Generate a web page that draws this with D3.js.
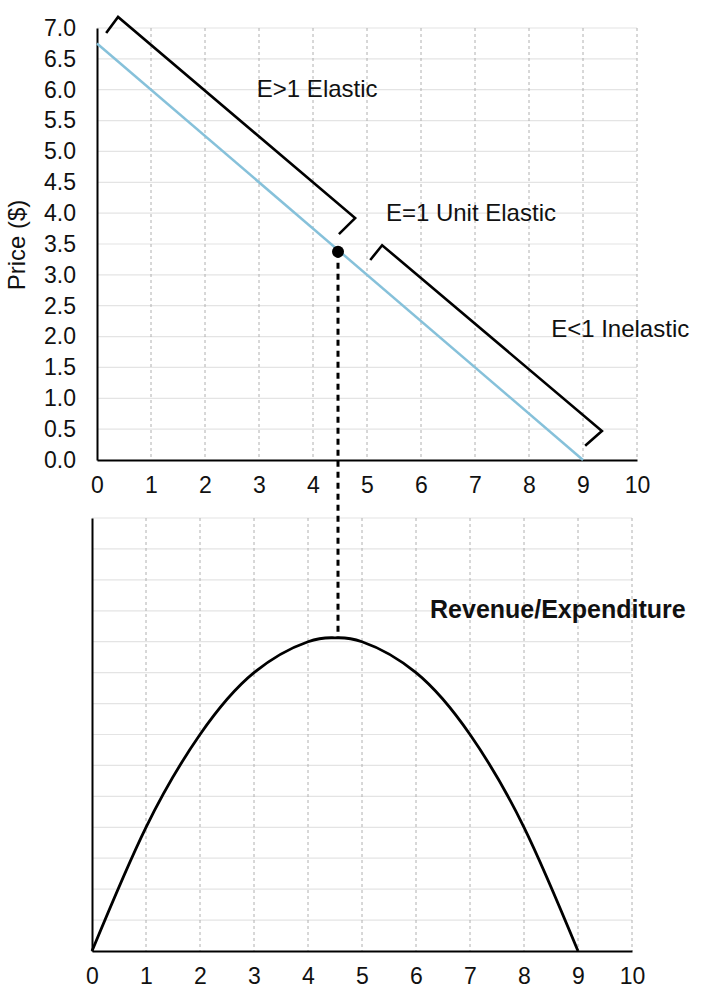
<!DOCTYPE html>
<html>
<head>
<meta charset="utf-8">
<script src="https://cdn.jsdelivr.net/npm/d3@7/dist/d3.min.js"></script>
<style>
  html, body { margin: 0; padding: 0; background: #fff; }
  svg { display: block; font-family: "Liberation Sans", Arial, Helvetica, sans-serif; }
</style>
</head>
<body>
<svg id="chart" width="720" height="988"></svg>
<script>
// ---- data ----
const qTicks = [0, 1, 2, 3, 4, 5, 6, 7, 8, 9, 10];
const priceTicks = [0, 0.5, 1, 1.5, 2, 2.5, 3, 3.5, 4, 4.5, 5, 5.5, 6, 6.5, 7];
const revenueGrid = [0, 1.5, 3, 4.5, 6, 7.5, 9, 10.5, 12, 13.5, 15, 16.5, 18, 19.5, 21];
const demandQ = [0, 9];
const demandP = [6.75, 0];
const unitPoint = [4.5, 3.375];
const revenueQ = [0, 1, 2, 3, 4, 4.5, 5, 6, 7, 8, 9];
const revenueR = [0, 6, 10.5, 13.5, 15, 15.19, 15, 13.5, 10.5, 6, 0];
const elasticBracket = [[0.17, 6.92], [0.39, 7.18], [4.78, 3.92], [4.48, 3.66]];
const inelasticBracket = [[5.06, 3.24], [5.28, 3.48], [9.35, 0.47], [9.04, 0.23]];
const labels = [
  { text: "E>1 Elastic", q: 2.96, p: 5.89 },
  { text: "E=1 Unit Elastic", q: 5.35, p: 3.88 },
  { text: "E<1 Inelastic", q: 8.41, p: 2.0 }
];
const revenueTitle = "Revenue/Expenditure";
const yTitle = "Price ($)";

// ---- scales ----
const svg = d3.select("#chart");
const xTop = d3.scaleLinear().domain([0, 10]).range([97, 637]);
const yTop = d3.scaleLinear().domain([0, 7]).range([460, 28]);
const xBot = d3.scaleLinear().domain([0, 10]).range([92, 632]);
const yBot = d3.scaleLinear().domain([0, 21]).range([951, 518]);

const gridH = "#e4e4e4", gridV = "#b0b0b0";
const FONT = "Liberation Sans, Arial, sans-serif";

function panel(xs, ys, yVals, showYLabels) {
  const g = svg.append("g");
  g.selectAll(".hg").data(yVals.filter(v => v > 0)).enter().append("line")
    .attr("x1", xs(0)).attr("x2", xs(10))
    .attr("y1", d => ys(d)).attr("y2", d => ys(d))
    .attr("stroke", gridH).attr("stroke-width", 1.2);
  g.selectAll(".vg").data(qTicks.filter(v => v > 0)).enter().append("line")
    .attr("x1", d => xs(d)).attr("x2", d => xs(d))
    .attr("y1", ys.range()[1]).attr("y2", ys.range()[0])
    .attr("stroke", gridV).attr("stroke-width", 1).attr("stroke-dasharray", "3,3");
  const xAxis = d3.axisBottom(xs).tickValues(qTicks).tickSize(0).tickPadding(17).tickFormat(d3.format("d"));
  const ax = g.append("g").attr("transform", `translate(0,${ys(0)})`).call(xAxis);
  ax.select(".domain").attr("stroke", "#000").attr("stroke-width", 2);
  ax.selectAll("text").attr("font-size", 23).attr("fill", "#111").attr("font-family", FONT);
  const yAxis = d3.axisLeft(ys).tickValues(yVals).tickSize(0).tickPadding(21).tickFormat(showYLabels ? d3.format(".1f") : () => "");
  const ay = g.append("g").attr("transform", `translate(${xs(0)},0)`).call(yAxis);
  ay.select(".domain").attr("stroke", "#000").attr("stroke-width", 2);
  ay.selectAll("text").attr("font-size", 23).attr("fill", "#111").attr("font-family", FONT);
  return g;
}

panel(xTop, yTop, priceTicks, true);
panel(xBot, yBot, revenueGrid, false);

// y title
svg.append("text")
  .attr("transform", `translate(25,${yTop(3.5) + 1}) rotate(-90)`)
  .attr("text-anchor", "middle")
  .attr("font-size", 24).attr("fill", "#111")
  .text(yTitle);

// demand line
const lineTop = d3.line().x(d => xTop(d[0])).y(d => yTop(d[1]));
svg.append("path")
  .datum(demandQ.map((q, i) => [q, demandP[i]]))
  .attr("d", lineTop)
  .attr("fill", "none").attr("stroke", "#86c1da").attr("stroke-width", 2.5);

// brackets
[elasticBracket, inelasticBracket].forEach(b => {
  svg.append("path").datum(b).attr("d", lineTop)
    .attr("fill", "none").attr("stroke", "#000").attr("stroke-width", 2.6)
    .attr("stroke-linejoin", "miter");
});

// labels
labels.forEach(l => {
  svg.append("text").attr("x", xTop(l.q)).attr("y", yTop(l.p))
    .attr("font-size", 24).attr("fill", "#111").text(l.text);
});

// revenue curve
const lineBot = d3.line().x(d => xBot(d[0])).y(d => yBot(d[1])).curve(d3.curveNatural);
svg.append("path")
  .datum(revenueQ.map((q, i) => [q, revenueR[i]]))
  .attr("d", lineBot)
  .attr("fill", "none").attr("stroke", "#000").attr("stroke-width", 2.8);

// dashed connector
const peak = d3.max(revenueR);
svg.append("line")
  .attr("x1", xTop(unitPoint[0]) - 2).attr("x2", xTop(unitPoint[0]) - 2)
  .attr("y1", yTop(unitPoint[1])).attr("y2", yBot(peak))
  .attr("stroke", "#000").attr("stroke-width", 3).attr("stroke-dasharray", "6,5");

// unit point
svg.append("circle")
  .attr("cx", xTop(unitPoint[0]) - 2).attr("cy", yTop(unitPoint[1]))
  .attr("r", 6).attr("fill", "#000");

// revenue title
svg.append("text").attr("x", xBot(6.26)).attr("y", yBot(16.15))
  .attr("font-size", 25).attr("font-weight", "bold").attr("fill", "#111")
  .text(revenueTitle);
</script>
</body>
</html>
